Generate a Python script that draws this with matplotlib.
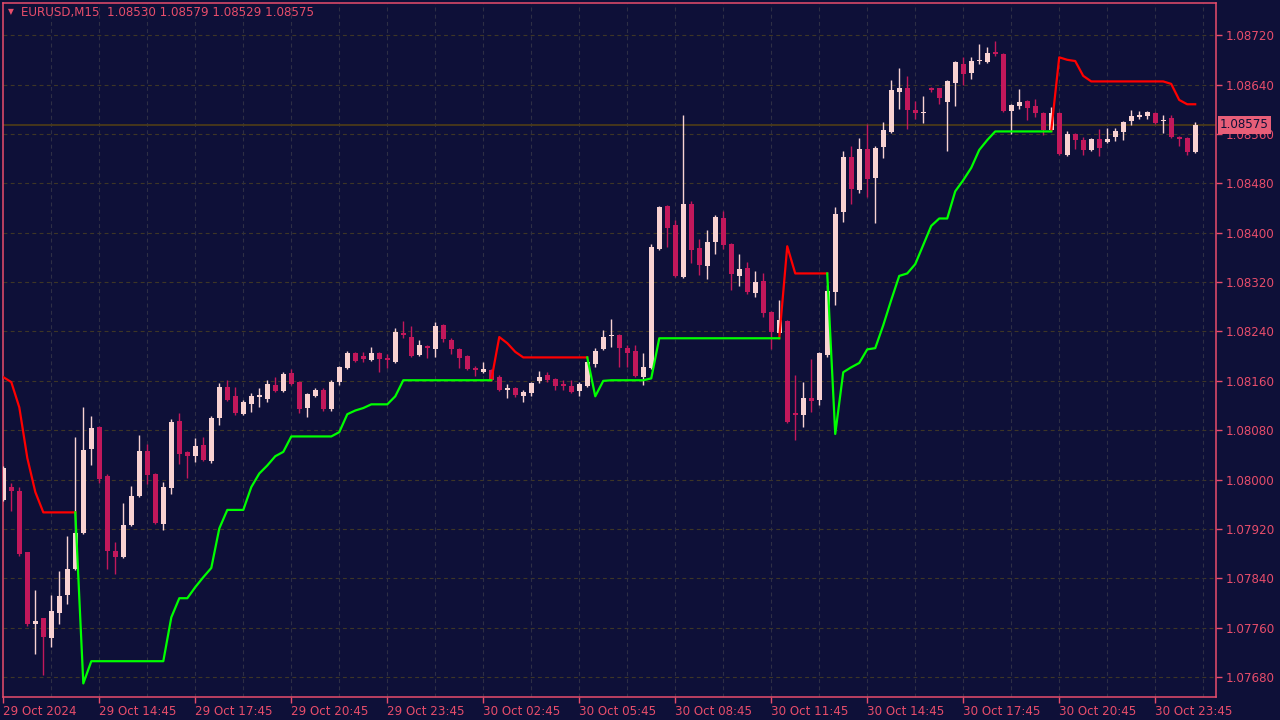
import numpy as np
import pandas as pd
import matplotlib
matplotlib.use("Agg")
import matplotlib.pyplot as plt

# --- data (EURUSD, M15) ---
symbol = "EURUSD,M15"
bar_times = pd.date_range("2024-10-29 11:45", periods=150, freq="15min")

opens = [
    1.07967, 1.07988, 1.07981, 1.07883, 1.07766, 1.07776, 1.07743, 1.07784, 1.07813, 1.07855,
    1.07913, 1.08049, 1.08085, 1.08006, 1.07884, 1.07874, 1.07926, 1.07973, 1.08046, 1.08009,
    1.07928, 1.07986, 1.08095, 1.08045, 1.08038, 1.08056, 1.08030, 1.08100, 1.08150, 1.08135,
    1.08106, 1.08122, 1.08134, 1.08130, 1.08153, 1.08143, 1.08172, 1.08158, 1.08116, 1.08135,
    1.08145, 1.08114, 1.08158, 1.08181, 1.08205, 1.08200, 1.08194, 1.08205, 1.08197, 1.08190,
    1.08237, 1.08231, 1.08202, 1.08216, 1.08211, 1.08250, 1.08226, 1.08211, 1.08200, 1.08181,
    1.08174, 1.08177, 1.08166, 1.08145, 1.08148, 1.08135, 1.08140, 1.08160, 1.08169, 1.08163,
    1.08155, 1.08151, 1.08143, 1.08151, 1.08187, 1.08211, 1.08232, 1.08234, 1.08213, 1.08208,
    1.08166, 1.08181, 1.08373, 1.08443, 1.08412, 1.08328, 1.08446, 1.08375, 1.08346, 1.08385,
    1.08424, 1.08381, 1.08330, 1.08343, 1.08302, 1.08322, 1.08271, 1.08237, 1.08257, 1.08108,
    1.08104, 1.08132, 1.08129, 1.08202, 1.08304, 1.08433, 1.08522, 1.08469, 1.08535, 1.08488,
    1.08539, 1.08563, 1.08628, 1.08634, 1.08599, 1.08594, 1.08634, 1.08634, 1.08612, 1.08642,
    1.08673, 1.08658, 1.08678, 1.08676, 1.08693, 1.08689, 1.08597, 1.08605, 1.08613, 1.08605,
    1.08594, 1.08566, 1.08594, 1.08526, 1.08560, 1.08550, 1.08534, 1.08552, 1.08547, 1.08555,
    1.08563, 1.08581, 1.08587, 1.08589, 1.08594, 1.08581, 1.08586, 1.08555, 1.08553, 1.08530,
]
highs = [
    1.08022, 1.07994, 1.07988, 1.07883, 1.07821, 1.07776, 1.07814, 1.07852, 1.07908, 1.08069,
    1.08117, 1.08103, 1.08087, 1.08009, 1.07899, 1.07962, 1.07989, 1.08072, 1.08057, 1.08011,
    1.07997, 1.08098, 1.08108, 1.08046, 1.08067, 1.08069, 1.08103, 1.08156, 1.08161, 1.08150,
    1.08129, 1.08140, 1.08148, 1.08161, 1.08166, 1.08174, 1.08179, 1.08160, 1.08140, 1.08148,
    1.08148, 1.08161, 1.08184, 1.08208, 1.08207, 1.08207, 1.08215, 1.08207, 1.08203, 1.08245,
    1.08257, 1.08249, 1.08227, 1.08218, 1.08255, 1.08252, 1.08229, 1.08213, 1.08202, 1.08184,
    1.08190, 1.08179, 1.08169, 1.08155, 1.08150, 1.08146, 1.08158, 1.08176, 1.08174, 1.08164,
    1.08161, 1.08161, 1.08158, 1.08192, 1.08213, 1.08242, 1.08260, 1.08236, 1.08218, 1.08218,
    1.08205, 1.08381, 1.08443, 1.08445, 1.08420, 1.08590, 1.08451, 1.08390, 1.08404, 1.08428,
    1.08435, 1.08383, 1.08365, 1.08352, 1.08338, 1.08334, 1.08273, 1.08291, 1.08258, 1.08169,
    1.08158, 1.08195, 1.08207, 1.08315, 1.08441, 1.08532, 1.08540, 1.08553, 1.08576, 1.08540,
    1.08579, 1.08647, 1.08666, 1.08654, 1.08613, 1.08621, 1.08636, 1.08634, 1.08647, 1.08678,
    1.08684, 1.08684, 1.08705, 1.08701, 1.08710, 1.08691, 1.08608, 1.08632, 1.08615, 1.08616,
    1.08595, 1.08603, 1.08595, 1.08564, 1.08562, 1.08555, 1.08553, 1.08568, 1.08569, 1.08569,
    1.08581, 1.08599, 1.08597, 1.08597, 1.08595, 1.08590, 1.08590, 1.08557, 1.08555, 1.08579,
]
lows = [
    1.07965, 1.07949, 1.07876, 1.07763, 1.07717, 1.07683, 1.07729, 1.07766, 1.07798, 1.07853,
    1.07912, 1.08023, 1.07994, 1.07856, 1.07848, 1.07873, 1.07925, 1.07972, 1.07993, 1.07928,
    1.07918, 1.07976, 1.08025, 1.08002, 1.08028, 1.08030, 1.08027, 1.08088, 1.08127, 1.08104,
    1.08104, 1.08109, 1.08117, 1.08125, 1.08142, 1.08142, 1.08153, 1.08108, 1.08101, 1.08134,
    1.08112, 1.08112, 1.08153, 1.08179, 1.08190, 1.08190, 1.08192, 1.08174, 1.08181, 1.08189,
    1.08229, 1.08198, 1.08200, 1.08197, 1.08198, 1.08223, 1.08203, 1.08181, 1.08177, 1.08168,
    1.08172, 1.08160, 1.08143, 1.08132, 1.08134, 1.08125, 1.08135, 1.08156, 1.08158, 1.08146,
    1.08146, 1.08140, 1.08135, 1.08150, 1.08182, 1.08210, 1.08215, 1.08182, 1.08182, 1.08166,
    1.08153, 1.08179, 1.08372, 1.08377, 1.08328, 1.08326, 1.08351, 1.08331, 1.08325, 1.08365,
    1.08373, 1.08307, 1.08313, 1.08300, 1.08296, 1.08263, 1.08211, 1.08236, 1.08091, 1.08065,
    1.08085, 1.08109, 1.08121, 1.08198, 1.08283, 1.08417, 1.08446, 1.08464, 1.08458, 1.08415,
    1.08521, 1.08561, 1.08600, 1.08568, 1.08584, 1.08577, 1.08628, 1.08608, 1.08532, 1.08605,
    1.08639, 1.08649, 1.08673, 1.08675, 1.08686, 1.08595, 1.08560, 1.08600, 1.08582, 1.08587,
    1.08558, 1.08565, 1.08526, 1.08524, 1.08535, 1.08526, 1.08532, 1.08524, 1.08545, 1.08548,
    1.08550, 1.08574, 1.08584, 1.08584, 1.08576, 1.08561, 1.08553, 1.08540, 1.08526, 1.08529,
]
closes = [
    1.08019, 1.07981, 1.07879, 1.07766, 1.07771, 1.07745, 1.07787, 1.07811, 1.07855, 1.07913,
    1.08048, 1.08083, 1.08001, 1.07884, 1.07874, 1.07926, 1.07973, 1.08046, 1.08007, 1.07929,
    1.07988, 1.08093, 1.08041, 1.08038, 1.08054, 1.08032, 1.08100, 1.08150, 1.08129, 1.08108,
    1.08125, 1.08135, 1.08137, 1.08155, 1.08143, 1.08171, 1.08155, 1.08114, 1.08138, 1.08145,
    1.08114, 1.08158, 1.08182, 1.08205, 1.08192, 1.08195, 1.08205, 1.08195, 1.08194, 1.08239,
    1.08234, 1.08200, 1.08218, 1.08213, 1.08249, 1.08228, 1.08211, 1.08197, 1.08179, 1.08177,
    1.08179, 1.08161, 1.08146, 1.08148, 1.08137, 1.08142, 1.08156, 1.08166, 1.08161, 1.08151,
    1.08151, 1.08142, 1.08155, 1.08190, 1.08208, 1.08231, 1.08234, 1.08213, 1.08205, 1.08168,
    1.08182, 1.08377, 1.08441, 1.08407, 1.08330, 1.08446, 1.08372, 1.08347, 1.08385, 1.08425,
    1.08380, 1.08333, 1.08341, 1.08304, 1.08320, 1.08270, 1.08239, 1.08258, 1.08093, 1.08104,
    1.08132, 1.08127, 1.08205, 1.08305, 1.08430, 1.08522, 1.08470, 1.08535, 1.08487, 1.08537,
    1.08566, 1.08631, 1.08634, 1.08598, 1.08594, 1.08595, 1.08631, 1.08618, 1.08645, 1.08676,
    1.08657, 1.08678, 1.08680, 1.08691, 1.08689, 1.08597, 1.08607, 1.08612, 1.08602, 1.08594,
    1.08566, 1.08594, 1.08527, 1.08560, 1.08550, 1.08534, 1.08551, 1.08537, 1.08552, 1.08565,
    1.08579, 1.08589, 1.08590, 1.08595, 1.08577, 1.08582, 1.08555, 1.08552, 1.08530, 1.08575,
]

# trailing stop indicator: red while price is below, green while above
stop_red = (
    [1.08166, 1.08158, 1.08117, 1.08035, 1.07980, 1.07947, 1.07947, 1.07947, 1.07947, 1.07947]
    + [None] * 51
    + [1.08161, 1.08231, 1.08221, 1.08207] + [1.08198] * 9
    + [None] * 23
    + [1.08229, 1.08378] + [1.08334] * 5
    + [None] * 27
    + [1.08565, 1.08684, 1.08680, 1.08678, 1.08654] + [1.08645] * 10
    + [1.08641, 1.08615, 1.08608, 1.08608]
)
stop_green = (
    [None] * 9
    + [1.07947, 1.07670] + [1.07706] * 10
    + [1.07777, 1.07808, 1.07808, 1.07826, 1.07842, 1.07857, 1.07921]
    + [1.07951] * 3
    + [1.07988, 1.08010, 1.08023, 1.08038, 1.08045] + [1.08070] * 6
    + [1.08077, 1.08106, 1.08112, 1.08116] + [1.08122] * 3
    + [1.08135] + [1.08161] * 12
    + [None] * 11
    + [1.08198, 1.08135, 1.08160] + [1.08161] * 5 + [1.08164] + [1.08229] * 16
    + [None] * 5
    + [1.08334, 1.08074, 1.08174, 1.08182, 1.08189, 1.08211, 1.08213, 1.08250,
       1.08291, 1.08330, 1.08334, 1.08349, 1.08380, 1.08411, 1.08423, 1.08423,
       1.08467, 1.08485, 1.08505, 1.08534, 1.08550] + [1.08564] * 8
    + [None] * 18
)

price_ticks = [1.07680, 1.07760, 1.07840, 1.07920, 1.08000, 1.08080, 1.08160,
               1.08240, 1.08320, 1.08400, 1.08480, 1.08560, 1.08640, 1.08720]

# --- colours ---
BG = "#0E1038"
FG = "#E84D6B"
BULL = "#F8D2D2"
BEAR = "#C2185B"
GRID_H = "#3E3626"
GRID_V = "#2E2F45"
BID_LINE = "#4A3A1A"
FS = 8.6

fig = plt.figure(figsize=(12.8, 7.2), dpi=100, facecolor=BG)
ax = fig.add_axes([3 / 1280, 23 / 720, 1213 / 1280, 694 / 720], facecolor=BG)

x = np.arange(len(opens))
o = np.array(opens)
h = np.array(highs)
l = np.array(lows)
c = np.array(closes)
up = c >= o

# grid
for yv in price_ticks:
    ax.axhline(yv, color=GRID_H, lw=0.8, dashes=(3.5, 3), zorder=1)
for k in range(6, 152, 6):
    ax.axvline(k, color=GRID_V, lw=0.8, dashes=(3.5, 3), zorder=1)

# bid line
bid = closes[-1]
ax.axhline(bid, color=BID_LINE, lw=1.3, zorder=2)

# candles
ax.vlines(x[up], l[up], h[up], color=BULL, lw=1.0, zorder=3)
ax.vlines(x[~up], l[~up], h[~up], color=BEAR, lw=1.0, zorder=3)
body = np.maximum(np.abs(c - o), 0.000014)
ax.bar(x, body, bottom=np.minimum(o, c), width=0.66,
       color=np.where(up, BULL, BEAR), linewidth=0, zorder=3)

# indicator lines
ax.plot(x, np.array(stop_red, dtype=float), color="#FF0000", lw=1.6, zorder=4)
ax.plot(x, np.array(stop_green, dtype=float), color="#00FF00", lw=1.6, zorder=4)

ax.set_xlim(-0.04, 151.6)
ax.set_ylim(1.07648, 1.08772)

# axes styling
for sp in ax.spines.values():
    sp.set_color(FG)
    sp.set_linewidth(1.1)

ax.yaxis.tick_right()
ax.set_yticks(price_ticks)
ax.set_yticklabels([f"{v:.5f}" for v in price_ticks])
ax.tick_params(axis="y", colors=FG, length=4, width=1, pad=3, labelsize=FS)

xt = list(range(0, len(opens), 12))
xlabels = [bar_times[0].strftime("%d %b %Y")] + [bar_times[k].strftime("%d %b %H:%M") for k in xt[1:]]
ax.set_xticks(xt)
ax.set_xticklabels(xlabels)
ax.tick_params(axis="x", colors=FG, length=4, width=1, pad=2, labelsize=FS)
for lbl in ax.get_xticklabels():
    lbl.set_horizontalalignment("left")

# bid price label on the price scale
ax.text(1 + 4 / 1213, bid, f"{bid:.5f}", transform=ax.get_yaxis_transform(),
        ha="left", va="center", fontsize=FS, color=BG, zorder=6, clip_on=False,
        bbox=dict(boxstyle="square,pad=0.2", fc="#E85E78", ec="none"))

# header
fig.text(10.5 / 1280, 1 - 11.5 / 720, "\u25bc", fontsize=5.5, color=FG, ha="center", va="center")
fig.text(21 / 1280, 1 - 12.5 / 720,
         f"{symbol}  {opens[-1]:.5f} {highs[-1]:.5f} {lows[-1]:.5f} {closes[-1]:.5f}",
         fontsize=FS, color=FG, ha="left", va="center")

fig.savefig("out.png", dpi=100, facecolor=BG)
